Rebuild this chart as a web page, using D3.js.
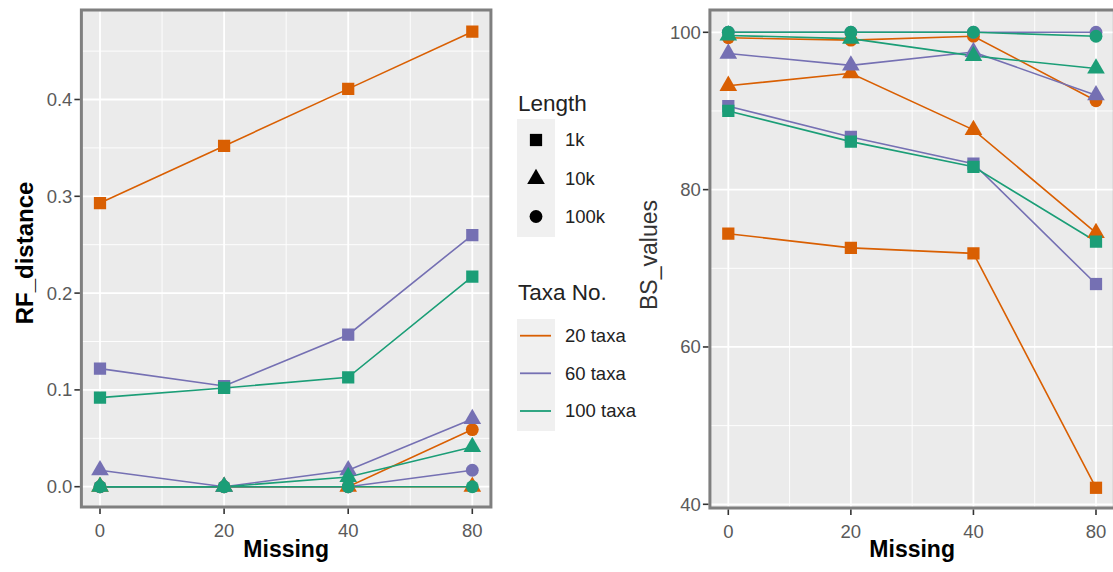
<!DOCTYPE html>
<html><head><meta charset="utf-8">
<script src="https://cdn.jsdelivr.net/npm/d3@7"></script>
<style>body{margin:0;background:#fff}svg{display:block}text{font-family:"Liberation Sans",Arial,sans-serif}</style>
</head><body><svg id="c" width="1113" height="572"></svg>
<script>
const missing = ["0","20","40","80"];
const taxaNames = ["20 taxa","60 taxa","100 taxa"];
const lengthNames = ["1k","10k","100k"];
const taxaColors = ["#D95F02","#7570B3","#1B9E77"];

// RF_distance per taxa / length
const rf_20_1k   = [0.293, 0.352, 0.411, 0.470];
const rf_20_10k  = [0, 0, 0, 0];
const rf_20_100k = [0, 0, 0, 0.059];
const rf_60_1k   = [0.122, 0.104, 0.157, 0.260];
const rf_60_10k  = [0.017, 0, 0.017, 0.070];
const rf_60_100k = [0, 0, 0, 0.017];
const rf_100_1k  = [0.092, 0.102, 0.113, 0.217];
const rf_100_10k = [0, 0, 0.010, 0.041];
const rf_100_100k= [0, 0, 0, 0];

// BS_values per taxa / length
const bs_20_1k   = [74.4, 72.6, 71.9, 42.1];
const bs_20_10k  = [93.2, 94.8, 87.6, 74.5];
const bs_20_100k = [99.3, 99.0, 99.5, 91.3];
const bs_60_1k   = [90.6, 86.7, 83.3, 68.0];
const bs_60_10k  = [97.3, 95.8, 97.5, 92.0];
const bs_60_100k = [100, 100, 100, 100];
const bs_100_1k  = [90.0, 86.1, 82.9, 73.4];
const bs_100_10k = [99.6, 99.2, 97.0, 95.4];
const bs_100_100k= [100, 100, 100, 99.5];

const rfTicks = [0, 0.1, 0.2, 0.3, 0.4];
const bsTicks = [40, 60, 80, 100];

const rfSeries = [
  [rf_20_1k, rf_20_10k, rf_20_100k],
  [rf_60_1k, rf_60_10k, rf_60_100k],
  [rf_100_1k, rf_100_10k, rf_100_100k]];
const bsSeries = [
  [bs_20_1k, bs_20_10k, bs_20_100k],
  [bs_60_1k, bs_60_10k, bs_60_100k],
  [bs_100_1k, bs_100_10k, bs_100_100k]];

const svg = d3.select("#c");
const shapeTypes = [d3.symbolSquare, d3.symbolTriangle, d3.symbolCircle];
const shapeSizes = [150, 135, 130];

function panel(opts){
  const {xr, yDomain, yRange, ticks, minor, series, fmt, top, bottom} = opts;
  const x = d3.scaleLinear().domain([0,3]).range(xr);
  const y = d3.scaleLinear().domain(yDomain).range(yRange);
  const left = x(-0.15), right = x(3.15);
  const g = svg.append("g");
  g.append("rect").attr("x",left).attr("y",top).attr("width",right-left).attr("height",bottom-top).attr("fill","#EBEBEB");
  const clip = "clip"+Math.round(left);
  svg.append("clipPath").attr("id",clip).append("rect").attr("x",left).attr("y",top).attr("width",right-left).attr("height",bottom-top);
  const gg = g.append("g").attr("clip-path","url(#"+clip+")");
  minor.forEach(v=>gg.append("line").attr("x1",left).attr("x2",right).attr("y1",y(v)).attr("y2",y(v)).attr("stroke","#fff").attr("stroke-width",0.9));
  [-0.5,0.5,1.5,2.5,3.5].forEach(v=>gg.append("line").attr("y1",top).attr("y2",bottom).attr("x1",x(v)).attr("x2",x(v)).attr("stroke","#fff").attr("stroke-width",0.9));
  ticks.forEach(v=>gg.append("line").attr("x1",left).attr("x2",right).attr("y1",y(v)).attr("y2",y(v)).attr("stroke","#fff").attr("stroke-width",1.8));
  [0,1,2,3].forEach(v=>gg.append("line").attr("y1",top).attr("y2",bottom).attr("x1",x(v)).attr("x2",x(v)).attr("stroke","#fff").attr("stroke-width",1.8));
  const line = d3.line().x((d,i)=>x(i)).y(d=>y(d));
  series.forEach((ts,ti)=>ts.forEach(vals=>{
    gg.append("path").attr("d",line(vals)).attr("fill","none").attr("stroke",taxaColors[ti]).attr("stroke-width",1.6);
  }));
  series.forEach((ts,ti)=>ts.forEach((vals,li)=>{
    gg.selectAll(null).data(vals).enter().append("path")
      .attr("d",d3.symbol().type(shapeTypes[li]).size(shapeSizes[li]))
      .attr("transform",(d,i)=>`translate(${x(i)},${y(d)})`)
      .attr("fill",taxaColors[ti]);
  }));
  g.append("rect").attr("x",left).attr("y",top).attr("width",right-left).attr("height",bottom-top).attr("fill","none").attr("stroke","#7F7F7F").attr("stroke-width",3);
  ticks.forEach(v=>{
    g.append("line").attr("x1",left-7).attr("x2",left-1.5).attr("y1",y(v)).attr("y2",y(v)).attr("stroke","#333").attr("stroke-width",1.6);
    g.append("text").attr("x",left-9).attr("y",y(v)).attr("dy","0.35em").attr("text-anchor","end").attr("font-size",18.5).attr("fill","#5A5A5A").text(fmt(v));
  });
  missing.forEach((m,i)=>{
    g.append("line").attr("x1",x(i)).attr("x2",x(i)).attr("y1",bottom+1.5).attr("y2",bottom+7).attr("stroke","#333").attr("stroke-width",1.6);
    g.append("text").attr("x",x(i)).attr("y",bottom+30).attr("text-anchor","middle").attr("font-size",18.5).attr("fill","#5A5A5A").text(m);
  });
  g.append("text").attr("x",(left+right)/2).attr("y",557).attr("text-anchor","middle").attr("font-size",23).attr("font-weight","bold").attr("fill","#000").text("Missing");
  return {x,y,left,right};
}

panel({xr:[100,472.3], yDomain:[0,0.4], yRange:[486.7,99.5], ticks:rfTicks,
  minor:[0.05,0.15,0.25,0.35,0.45], series:rfSeries, fmt:d3.format(".1f"), top:10, bottom:507});
panel({xr:[728.3,1096], yDomain:[40,100], yRange:[504.3,32.3], ticks:bsTicks,
  minor:[50,70,90], series:bsSeries, fmt:d3.format("d"), top:10, bottom:508});

svg.append("text").attr("transform","translate(33,253) rotate(-90)").attr("text-anchor","middle")
  .attr("font-size",24).attr("font-weight","bold").text("RF_distance");
svg.append("text").attr("transform","translate(657,255) rotate(-90)").attr("text-anchor","middle")
  .attr("font-size",23).attr("fill","#333").text("BS_values");

const lg = svg.append("g");
lg.append("text").attr("x",518).attr("y",110.5).attr("font-size",22.5).attr("fill","#222").text("Length");
lg.append("rect").attr("x",517).attr("y",119).attr("width",38).attr("height",118).attr("fill","#F0F0F0");
const ly = [140, 179, 216.5];
lengthNames.forEach((n,i)=>{
  lg.append("path").attr("d",d3.symbol().type(shapeTypes[i]).size(shapeSizes[i])()).attr("transform",`translate(536,${ly[i]})`).attr("fill","#000");
  lg.append("text").attr("x",565).attr("y",ly[i]).attr("dy","0.35em").attr("font-size",18.5).attr("fill","#222").text(n);
});
lg.append("text").attr("x",518).attr("y",300).attr("font-size",22.5).attr("fill","#222").text("Taxa No.");
lg.append("rect").attr("x",517).attr("y",319).attr("width",38).attr("height",112).attr("fill","#F0F0F0");
const ty = [335.7, 373.3, 411];
taxaNames.forEach((n,i)=>{
  lg.append("line").attr("x1",520).attr("x2",551).attr("y1",ty[i]).attr("y2",ty[i]).attr("stroke",taxaColors[i]).attr("stroke-width",1.8);
  lg.append("text").attr("x",565).attr("y",ty[i]).attr("dy","0.35em").attr("font-size",18.5).attr("fill","#222").text(n);
});
</script></body></html>
